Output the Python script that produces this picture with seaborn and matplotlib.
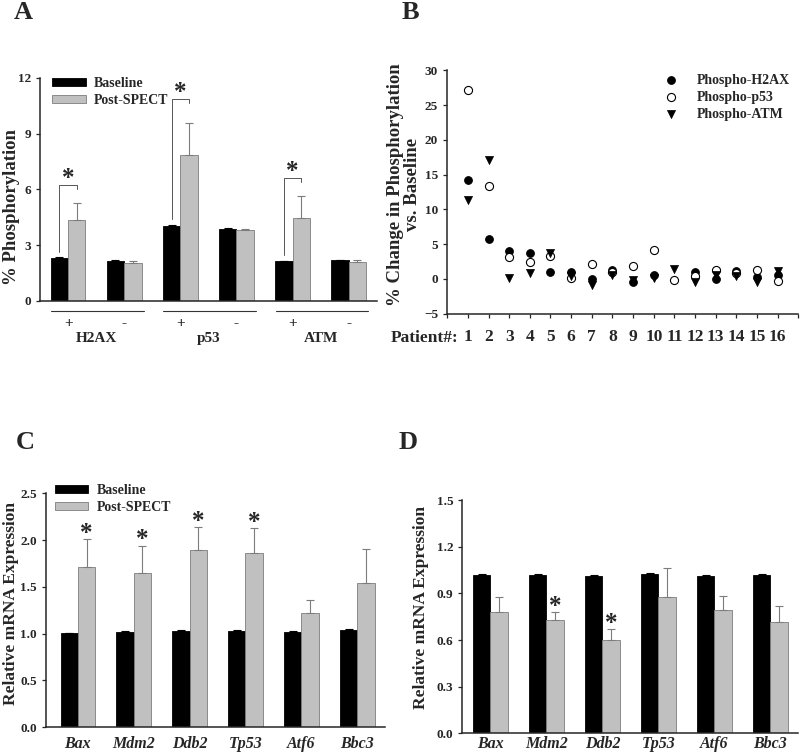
import seaborn as sns
import matplotlib.pyplot as plt
import matplotlib.transforms as mtransforms
from matplotlib.patches import Patch
import numpy as np
import pandas as pd

sns.set_style('ticks')
plt.rcParams['font.family'] = ['Liberation Serif', 'DejaVu Serif']
plt.rcParams['font.weight'] = 'bold'
plt.rcParams['axes.labelweight'] = 'bold'
plt.rcParams['axes.linewidth'] = 1.1
plt.rcParams['xtick.major.width'] = 0.9
plt.rcParams['ytick.major.width'] = 0.9
plt.rcParams['ytick.major.size'] = 3
plt.rcParams['xtick.major.size'] = 3

BLACK = '#000000'
GREY = '#c0c0c0'
GREY_EDGE = '#7c7c7c'
COND = ['Baseline', 'Post-SPECT']

# ---- panel A: % phosphorylation
phos_groups = ['H2AX', 'H2AX', 'p53', 'p53', 'ATM', 'ATM']
phos_signs = ['+', '-', '+', '-', '+', '-']
phos_base = [2.30, 2.15, 4.04, 3.88, 2.12, 2.19]
phos_base_err = [0.04, 0.04, 0.05, 0.05, 0.03, 0.03]
phos_post = [4.36, 2.06, 7.84, 3.81, 4.45, 2.08]
phos_post_err = [0.93, 0.09, 1.73, 0.05, 1.22, 0.14]
phos_sig = [True, False, True, False, True, False]

# ---- panel B: % change vs baseline per patient
patients = list(range(1, 17))
chg_h2ax = [14.3, 5.7, 4.0, 3.8, 1.0, 1.0, -0.05, 1.3, -0.43, 0.5, np.nan, 1.0, -0.05, 1.15, 0.33, 0.55]
chg_p53 = [27.2, 13.3, 3.2, 2.4, 3.3, 0.1, 2.2, 1.05, 1.8, 4.2, -0.2, 0.43, 1.3, 0.9, 1.33, -0.24]
chg_atm = [11.4, 17.1, 0.1, 0.8, 3.7, 0.4, -0.85, 0.6, -0.15, 0.1, 1.4, -0.4, 0.6, 0.4, -0.4, 1.15]

# ---- panels C, D: relative mRNA expression
genes = ['Bax', 'Mdm2', 'Ddb2', 'Tp53', 'Atf6', 'Bbc3']
c_base = [1.007, 1.02, 1.03, 1.03, 1.02, 1.04]
c_base_err = [0.005, 0.005, 0.005, 0.005, 0.005, 0.005]
c_post = [1.71, 1.645, 1.89, 1.86, 1.22, 1.54]
c_post_err = [0.30, 0.295, 0.25, 0.27, 0.14, 0.36]
c_sig = [True, True, True, True, False, False]

d_base = [1.02, 1.02, 1.015, 1.024, 1.015, 1.02]
d_base_err = [0.004, 0.004, 0.004, 0.006, 0.003, 0.005]
d_post = [0.78, 0.726, 0.597, 0.878, 0.79, 0.717]
d_post_err = [0.094, 0.054, 0.077, 0.186, 0.09, 0.099]
d_sig = [False, True, True, False, False, False]


def bar_panel(ax, slots, base, base_err, post, post_err):
    df = pd.DataFrame({'slot': slots * 2,
                       'cond': [COND[0]] * len(slots) + [COND[1]] * len(slots),
                       'value': list(base) + list(post)})
    sns.barplot(data=df, x='slot', y='value', hue='cond', order=slots, hue_order=COND,
                palette=[BLACK, GREY], width=0.62, gap=0, errorbar=None,
                edgecolor=BLACK, linewidth=0.6, legend=False, ax=ax)
    for bar in ax.containers[1]:
        bar.set_edgecolor(GREY_EDGE)
    tops = []
    for cont, errs, col in zip(ax.containers, [base_err, post_err], [BLACK, GREY_EDGE]):
        xs = [b.get_x() + b.get_width() / 2 for b in cont]
        hs = [b.get_height() for b in cont]
        ax.errorbar(xs, hs, yerr=[np.zeros(len(errs)), errs], fmt='none', ecolor=col,
                    elinewidth=0.8, capsize=3, capthick=0.8, zorder=1)
        tops.append((xs, hs))
    ax.set_xlabel('')
    ax.set_ylabel('')
    ax.tick_params(axis='x', length=0)
    sns.despine(ax=ax)
    return tops


def bar_legend(ax, anchor):
    handles = [Patch(facecolor=BLACK, edgecolor=BLACK, lw=0.6),
               Patch(facecolor=GREY, edgecolor=GREY_EDGE, lw=0.6)]
    ax.legend(handles, COND, loc='upper left', bbox_to_anchor=anchor, frameon=False,
              handlelength=2.4, handleheight=0.55, handletextpad=0.6, labelspacing=0.3,
              borderaxespad=0, prop={'size': 10, 'weight': 'bold'})


fig = plt.figure(figsize=(8, 7.56), dpi=100)
axA = fig.add_axes([0.050, 0.602, 0.421, 0.295])
axB = fig.add_axes([0.559, 0.585, 0.439, 0.322])
axC = fig.add_axes([0.0575, 0.038, 0.424, 0.3095])
axD = fig.add_axes([0.578, 0.030, 0.42, 0.3085])

# ---------------- A
slotsA = [g + s for g, s in zip(phos_groups, phos_signs)]
topsA = bar_panel(axA, slotsA, phos_base, phos_base_err, phos_post, phos_post_err)
axA.set_xlim(-0.5, 5.5)
axA.set_ylim(0, 12)
axA.set_yticks([0, 3, 6, 9, 12])
axA.set_xticklabels([])
axA.tick_params(axis='y', labelsize=9.5)
axA.set_ylabel('% Phosphorylation', fontsize=13.5)
axA.yaxis.set_label_coords(-0.058, 0.42)
bar_legend(axA, (0.02, 1.03))
(bx, bh), (px, ph) = topsA
for i, sig in enumerate(phos_sig):
    if not sig:
        continue
    cap = ph[i] + phos_post_err[i]
    top = cap + 0.95 + 0.35 * (cap > 8)
    axA.plot([bx[i], bx[i], px[i], px[i]], [bh[i] + 0.35, top, top, top - 0.2],
             color='#555555', lw=0.7)
    axA.text((bx[i] + px[i]) / 2, top - 0.3, '*', ha='center', va='bottom', fontsize=18)
trA = mtransforms.blended_transform_factory(axA.transData, axA.transAxes)
for k, g in enumerate(['H2AX', 'p53', 'ATM']):
    x0 = 2 * k
    axA.plot([x0 - 0.3, x0 + 1.35], [-0.045, -0.045], transform=trA, color='#333333',
             lw=0.8, clip_on=False)
    axA.text(x0 + 0.5, -0.17, g, transform=trA, ha='center', va='center', fontsize=11)
for i, s in enumerate(phos_signs):
    axA.text(i, -0.1, s, transform=trA, ha='center', va='center', fontsize=11)

# ---------------- B
sns.scatterplot(x=patients, y=chg_h2ax, marker='o', s=30, color=BLACK, edgecolor=BLACK,
                linewidth=0.8, ax=axB, label='Phospho-H2AX', zorder=3)
sns.scatterplot(x=patients, y=chg_p53, marker='o', s=34, facecolor='white', edgecolor=BLACK,
                linewidth=0.8, ax=axB, label='Phospho-p53', zorder=4)
sns.scatterplot(x=patients, y=chg_atm, marker='v', s=34, color=BLACK, edgecolor=BLACK,
                linewidth=0.5, ax=axB, label='Phospho-ATM', zorder=5)
axB.set_xlim(0, 17)
axB.set_ylim(-5, 30)
axB.set_yticks(range(-5, 31, 5))
axB.set_xticks(range(0, 18))
axB.set_xticklabels([''] + [str(p) for p in patients] + [''])
axB.tick_params(axis='x', labelsize=12.5, pad=8)
axB.tick_params(axis='y', labelsize=9.5)
axB.set_ylabel('% Change in Phosphorylation\nvs. Baseline', fontsize=13.5, linespacing=1.0)
axB.yaxis.set_label_coords(-0.075, 0.53)
trB = mtransforms.blended_transform_factory(axB.transData, axB.transAxes)
axB.text(0.55, -0.098, 'Patient#:', transform=trB, ha='right', va='center', fontsize=12.5)
axB.legend(loc='upper right', bbox_to_anchor=(1.0, 1.02), frameon=False, markerscale=1.0,
           handletextpad=0.9, labelspacing=0.3, borderaxespad=0.2,
           prop={'size': 10, 'weight': 'bold'})
sns.despine(ax=axB)

# ---------------- C
topsC = bar_panel(axC, genes, c_base, c_base_err, c_post, c_post_err)
axC.set_xlim(-0.57, 5.5)
axC.set_ylim(0, 2.5)
axC.set_yticks(np.arange(0, 2.51, 0.5))
axC.yaxis.set_major_formatter(plt.FormatStrFormatter('%.1f'))
axC.tick_params(axis='y', labelsize=9.5)
axC.set_xticks(range(6))
axC.set_xticklabels(genes, fontsize=11.5, style='italic')
axC.tick_params(axis='x', pad=6)
axC.set_ylabel('Relative mRNA Expression', fontsize=12.5)
axC.yaxis.set_label_coords(-0.08, 0.53)
bar_legend(axC, (0.01, 1.065))
px, ph = topsC[1]
for i, sig in enumerate(c_sig):
    if sig:
        axC.text(px[i], ph[i] + c_post_err[i] - 0.06, '*', ha='center', va='bottom', fontsize=18)

# ---------------- D
topsD = bar_panel(axD, genes, d_base, d_base_err, d_post, d_post_err)
axD.set_xlim(-0.5, 5.5)
axD.set_ylim(0, 1.5)
axD.set_yticks(np.arange(0, 1.51, 0.3))
axD.yaxis.set_major_formatter(plt.FormatStrFormatter('%.1f'))
axD.tick_params(axis='y', labelsize=9.5)
axD.set_xticks(range(6))
axD.set_xticklabels(genes, fontsize=11.5, style='italic')
axD.tick_params(axis='x', pad=2)
axD.set_ylabel('Relative mRNA Expression', fontsize=12.5)
axD.yaxis.set_label_coords(-0.1, 0.54)
px, ph = topsD[1]
for i, sig in enumerate(d_sig):
    if sig:
        axD.text(px[i], ph[i] + d_post_err[i] - 0.04, '*', ha='center', va='bottom', fontsize=18)

# panel letters
for lab, x, y in [('A', 0.029, 0.983), ('B', 0.5125, 0.983), ('C', 0.031, 0.415), ('D', 0.51, 0.415)]:
    fig.text(x, y, lab, ha='center', va='center', fontsize=19, fontweight='bold')

fig.savefig('out.png', dpi=100)
